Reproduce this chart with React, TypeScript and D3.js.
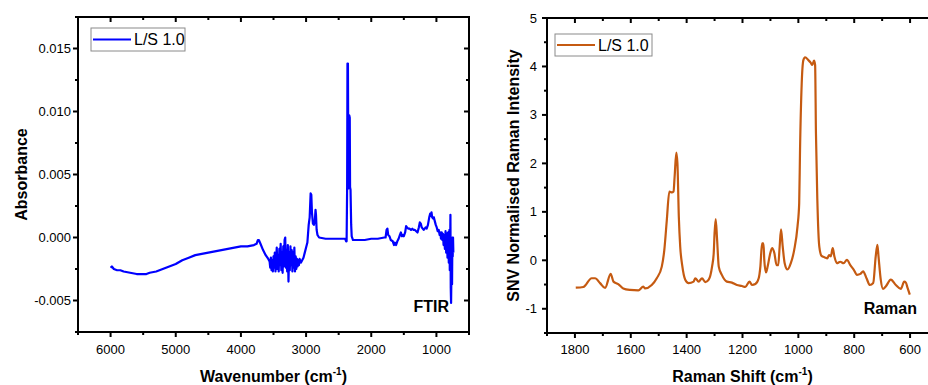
import React from "react";
import * as d3 from "d3";

// ---------- FTIR data ----------
const ftirWavenumber = [
  6000, 5980, 5950, 5900, 5850, 5800, 5700, 5600, 5500, 5450, 5400, 5300, 5200, 5100, 5000,
  4900, 4800, 4700, 4600, 4500, 4400, 4300, 4200, 4100, 4000, 3900, 3800, 3760, 3740, 3725,
  3700, 3660, 3620, 3580, 3560,
  3550, 3540, 3530, 3520, 3510, 3500, 3490, 3480, 3470, 3460, 3450, 3440, 3430, 3420, 3410,
  3400, 3390, 3380, 3370, 3360, 3350, 3340, 3330, 3320, 3310, 3300, 3290, 3280, 3270, 3260,
  3250, 3240, 3230, 3220, 3210, 3200, 3190, 3180, 3170, 3160, 3150, 3140, 3130, 3120, 3110,
  3100, 3080, 3060, 3040, 3020, 3000, 2980, 2960, 2945, 2930, 2920, 2910, 2895, 2880, 2865,
  2855, 2848, 2838, 2825, 2800, 2700, 2600, 2500, 2400, 2385, 2378, 2370, 2365, 2358, 2352,
  2345, 2338, 2330, 2325, 2318, 2308, 2300, 2280, 2200, 2100, 2000, 1900, 1800, 1780, 1765,
  1752, 1740, 1720, 1700, 1670, 1650, 1640, 1620, 1600, 1580, 1560, 1545, 1530, 1515, 1500,
  1480, 1465, 1450, 1430, 1410, 1390, 1370, 1350, 1330, 1310, 1290, 1270, 1255, 1240, 1225,
  1210, 1195, 1180, 1165, 1150, 1130, 1110, 1095, 1080, 1075, 1065, 1050, 1040, 1025, 1010,
  995, 980, 965, 950, 940, 930, 920, 910, 900, 890, 880, 870, 860, 850, 840,
  830, 820, 810, 800, 795, 790, 785, 780, 775, 770, 765, 760, 755, 750, 745, 740,
];
const ftirAbsorbance = [
  -0.0024, -0.0023, -0.0025, -0.0026, -0.0026, -0.0027, -0.0028, -0.0029, -0.0029, -0.0029, -0.0028, -0.0027, -0.0025, -0.0023, -0.0021,
  -0.0018, -0.0016, -0.0014, -0.0013, -0.0012, -0.0011, -0.001, -0.0009, -0.0008, -0.0007, -0.0007, -0.0006, -0.0005, -0.0002, -0.0002,
  -0.0005, -0.001, -0.0014, -0.0017, -0.0019,
  -0.0024, -0.0016, -0.0026, -0.0018, -0.0027, -0.0015, -0.0024, -0.0012, -0.0027, -0.0018, -0.0008, -0.0025, -0.0014, -0.0027, -0.0009,
  -0.0022, -0.0005, -0.0026, -0.0012, -0.0028, -0.0007, -0.0023, -0.0002, 0.0, -0.0024, -0.001, -0.0027, -0.0006, -0.0035, -0.0012,
  -0.0026, -0.0007, -0.0022, -0.001, -0.0027, -0.0012, -0.0024, -0.0008, -0.0027, -0.0015, -0.0025, -0.0017, -0.0023, -0.0018, -0.0022,
  -0.0017, -0.002, -0.0018, -0.0016, -0.0012, -0.0008, -0.0004, 0.001, 0.0016, 0.0035, 0.0034, 0.002, 0.0011, 0.001, 0.0014,
  0.0022, 0.0018, 0.0006, 0.0002, 0.0, -0.0001, -0.0001, -0.0001, -0.0001, -0.0003, -0.0003, 0.004, 0.0138, 0.0138, 0.006,
  0.0039, 0.0097, 0.0095, 0.004, 0.0038, 0.001, 0.0001, -0.0002, -0.0002, -0.0002, -0.0001, -0.0001, 0.0, 0.0, 0.0006,
  0.0007, 0.0002, 0.0001, -0.0002, -0.0003, -0.0006, -0.0004, -0.0006, -0.0003, -0.0001, 0.0002, 0.0004, 0.0001, 0.0002, 0.0001,
  0.0004, 0.0009, 0.0008, 0.0007, 0.0007, 0.0006, 0.0007, 0.0006, 0.0006, 0.0005, 0.0004, 0.0008, 0.0012, 0.0011, 0.0008,
  0.0007, 0.0006, 0.0007, 0.0008, 0.0007, 0.001, 0.0016, 0.0019, 0.0017, 0.002, 0.0016, 0.0015, 0.0016, 0.0013, 0.001,
  0.0008, 0.0005, 0.0006, 0.0002, 0.0004, -0.0001, 0.0004, -0.0002, 0.0003, -0.0006, 0.0002, -0.0009, 0.0005, -0.0012, 0.0003,
  -0.0016, 0.0004, -0.002, 0.0006, -0.0026, -0.0012, 0.0018, -0.004, -0.0052, -0.003, -0.001, -0.0037, 0.0, -0.0015, 0.0, -0.0012,
];
const ftirXTicks = [6000, 5000, 4000, 3000, 2000, 1000];
const ftirXMinor = [6500, 5500, 4500, 3500, 2500, 1500, 500];
const ftirYTicks = [-0.005, 0.0, 0.005, 0.01, 0.015];
const ftirYMinor = [-0.0075, -0.0025, 0.0025, 0.0075, 0.0125, 0.0175];

// ---------- Raman data ----------
const ramanShift = [
  1797, 1770, 1740, 1728, 1710, 1692, 1672, 1662, 1645, 1627, 1603, 1573, 1555, 1549, 1525,
  1507, 1489, 1480, 1471, 1462, 1453, 1447, 1443, 1437, 1433, 1428, 1423, 1416, 1405, 1393,
  1375, 1369, 1357, 1345, 1333, 1321, 1309, 1303, 1300, 1296, 1291, 1285, 1274, 1256, 1238,
  1220, 1202, 1190, 1175, 1166, 1154, 1142, 1136, 1130, 1125, 1122, 1116, 1110, 1102, 1094,
  1086, 1078, 1072, 1067, 1062, 1056, 1049, 1039, 1027, 1015, 1003, 997, 994, 988, 982,
  976, 964, 956, 950, 944, 940, 937, 932, 925, 917, 905, 896, 890, 884, 877,
  871, 862, 850, 838, 826, 814, 802, 790, 778, 768, 756, 744, 732, 723, 717,
  713, 705, 697, 687, 669, 651, 633, 621, 615, 609, 601,
];
const ramanIntensity = [
  -0.565, -0.55, -0.37, -0.37, -0.47, -0.57, -0.28, -0.44, -0.49, -0.58, -0.61, -0.62, -0.54, -0.58, -0.51,
  -0.37, -0.13, 0.21, 0.83, 1.42, 1.4, 1.42, 1.73, 2.22, 2.0, 0.9, 0.28, -0.1, -0.4, -0.47,
  -0.44, -0.37, -0.44, -0.37, -0.45, -0.4, -0.13, 0.15, 0.56, 0.85, 0.43, -0.13, -0.3, -0.44, -0.46,
  -0.51, -0.53, -0.55, -0.44, -0.51, -0.49, -0.37, -0.13, 0.35, 0.35, 0.01, -0.25, -0.13, 0.11, 0.25,
  0.15, -0.1, -0.1, 0.28, 0.64, 0.28, -0.06, -0.19, -0.06, 0.21, 0.7, 1.18, 2.28, 3.65, 4.13,
  4.19, 4.13, 4.08, 4.03, 4.12, 4.03, 2.62, 1.24, 0.28, 0.09, 0.06, 0.04, 0.11, 0.08, 0.25,
  0.08, -0.06, -0.03, -0.06, 0.01, -0.1, -0.19, -0.3, -0.28, -0.23, -0.37, -0.51, -0.47, 0.08, 0.32,
  0.08, -0.4, -0.59, -0.54, -0.4, -0.51, -0.59, -0.44, -0.46, -0.57, -0.71,
];
const ramanXTicks = [1800, 1600, 1400, 1200, 1000, 800, 600];
const ramanXMinor = [1900, 1700, 1500, 1300, 1100, 900, 700, 500];
const ramanYTicks = [-1, 0, 1, 2, 3, 4, 5];
const ramanYMinor = [-1.5, -0.5, 0.5, 1.5, 2.5, 3.5, 4.5];

const legendLabel = "L/S 1.0";
const FONT = "'Liberation Sans', Arial, Helvetica, sans-serif";

type PanelProps = {
  x0: number; x1: number; y0: number; y1: number;
  xDomain: [number, number]; yDomain: [number, number];
  xs: number[]; ys: number[];
  xTicks: number[]; xMinor: number[]; yTicks: number[]; yMinor: number[];
  yFormat: (v: number) => string;
  color: string; smooth: boolean; lineWidth: number;
  xTitle: string; yTitle: string; yTitleX: number;
  tag: string; tagX: number; tagY: number;
  legend: { bx: number; by: number; bw: number; bh: number };
  yLabelX: number;
};

function Panel(p: PanelProps) {
  const x = d3.scaleLinear().domain(p.xDomain).range([p.x0, p.x1]);
  const y = d3.scaleLinear().domain(p.yDomain).range([p.y1, p.y0]);
  const pts: [number, number][] = p.xs.map((v, i) => [v, p.ys[i]]);
  const line = d3
    .line<[number, number]>()
    .x((d) => x(d[0]))
    .y((d) => y(d[1]))
    .curve(p.smooth ? d3.curveMonotoneX : d3.curveLinear);
  const MAJ = 5, MIN = 3;
  const cx = (p.x0 + p.x1) / 2;
  const cy = (p.y0 + p.y1) / 2;
  const lg = p.legend;
  return (
    <g>
      <path d={line(pts) || ""} fill="none" stroke={p.color} strokeWidth={p.lineWidth} strokeLinejoin="round" />
      {/* frame */}
      <rect x={p.x0} y={p.y0} width={p.x1 - p.x0} height={p.y1 - p.y0} fill="none" stroke="#000" strokeWidth={2} />
      {/* x ticks */}
      {p.xTicks.map((t) => (
        <g key={"xt" + t}>
          <line x1={x(t)} x2={x(t)} y1={p.y1} y2={p.y1 + MAJ} stroke="#000" strokeWidth={2} />
          <line x1={x(t)} x2={x(t)} y1={p.y0} y2={p.y0 + MAJ} stroke="#000" strokeWidth={2} />
          <text x={x(t)} y={354} textAnchor="middle" fontSize={13} fontFamily={FONT} fill="#000">{t}</text>
        </g>
      ))}
      {p.xMinor.map((t) => (
        <g key={"xm" + t}>
          <line x1={x(t)} x2={x(t)} y1={p.y1} y2={p.y1 + MIN} stroke="#000" strokeWidth={2} />
          <line x1={x(t)} x2={x(t)} y1={p.y0} y2={p.y0 + MIN} stroke="#000" strokeWidth={2} />
        </g>
      ))}
      {p.yTicks.map((t) => (
        <g key={"yt" + t}>
          <line x1={p.x0 - MAJ} x2={p.x0} y1={y(t)} y2={y(t)} stroke="#000" strokeWidth={2} />
          <line x1={p.x1 - MAJ} x2={p.x1} y1={y(t)} y2={y(t)} stroke="#000" strokeWidth={2} />
          <text x={p.yLabelX} y={y(t) + 4.5} textAnchor="end" fontSize={13} fontFamily={FONT} fill="#000">{p.yFormat(t)}</text>
        </g>
      ))}
      {p.yMinor.map((t) => (
        <g key={"ym" + t}>
          <line x1={p.x0 - MIN} x2={p.x0} y1={y(t)} y2={y(t)} stroke="#000" strokeWidth={2} />
          <line x1={p.x1 - MIN} x2={p.x1} y1={y(t)} y2={y(t)} stroke="#000" strokeWidth={2} />
        </g>
      ))}
      {/* axis titles */}
      <text x={cx} y={382} textAnchor="middle" fontSize={16} fontWeight="bold" fontFamily={FONT} fill="#000">
        {p.xTitle}
        <tspan fontSize={10} dy={-7}>-1</tspan>
        <tspan dy={7}>)</tspan>
      </text>
      <text transform={`translate(${p.yTitleX},${cy}) rotate(-90)`} textAnchor="middle" fontSize={16} fontWeight="bold" fontFamily={FONT} fill="#000">
        {p.yTitle}
      </text>
      {/* tag */}
      <text x={p.tagX} y={p.tagY} textAnchor="end" fontSize={16} fontWeight="bold" fontFamily={FONT} fill="#000">{p.tag}</text>
      {/* legend */}
      <rect x={lg.bx} y={lg.by} width={lg.bw} height={lg.bh} fill="#fff" stroke="#8a8a8a" strokeWidth={1} />
      <line x1={lg.bx + 2} x2={lg.bx + 40} y1={lg.by + lg.bh / 2} y2={lg.by + lg.bh / 2} stroke={p.color} strokeWidth={2} />
      <text x={lg.bx + 43} y={lg.by + lg.bh / 2 + 5.8} fontSize={16} fontFamily={FONT} fill="#000">{legendLabel}</text>
    </g>
  );
}

export default function App() {
  const fmt3 = d3.format(".3f");
  return (
    <svg width={928} height={385} viewBox="0 0 928 385" style={{ position: "absolute", left: 0, top: 0, display: "block", background: "#fff" }}>
      <rect x={0} y={0} width={928} height={385} fill="#fff" />
      <Panel
        x0={78} x1={469} y0={17} y1={332}
        xDomain={[6500, 500]} yDomain={[-0.0075, 0.0175]}
        xs={ftirWavenumber} ys={ftirAbsorbance}
        xTicks={ftirXTicks} xMinor={ftirXMinor} yTicks={ftirYTicks} yMinor={ftirYMinor}
        yFormat={(v) => fmt3(v).replace("−", "-")}
        color="#0000FF" smooth={false} lineWidth={2.2}
        xTitle="Wavenumber (cm" yTitle="Absorbance" yTitleX={27}
        tag="FTIR" tagX={449} tagY={312}
        legend={{ bx: 91, by: 28, bw: 94, bh: 23 }}
        yLabelX={71}
      />
      <Panel
        x0={547} x1={938} y0={18} y1={333}
        xDomain={[1900, 500]} yDomain={[-1.5, 5]}
        xs={ramanShift} ys={ramanIntensity}
        xTicks={ramanXTicks} xMinor={ramanXMinor} yTicks={ramanYTicks} yMinor={ramanYMinor}
        yFormat={(v) => String(v)}
        color="#C55A11" smooth={true} lineWidth={2.2}
        xTitle="Raman Shift (cm" yTitle="SNV Normalised Raman Intensity" yTitleX={519}
        tag="Raman" tagX={917} tagY={314}
        legend={{ bx: 555, by: 34, bw: 97, bh: 22 }}
        yLabelX={537}
      />
    </svg>
  );
}
